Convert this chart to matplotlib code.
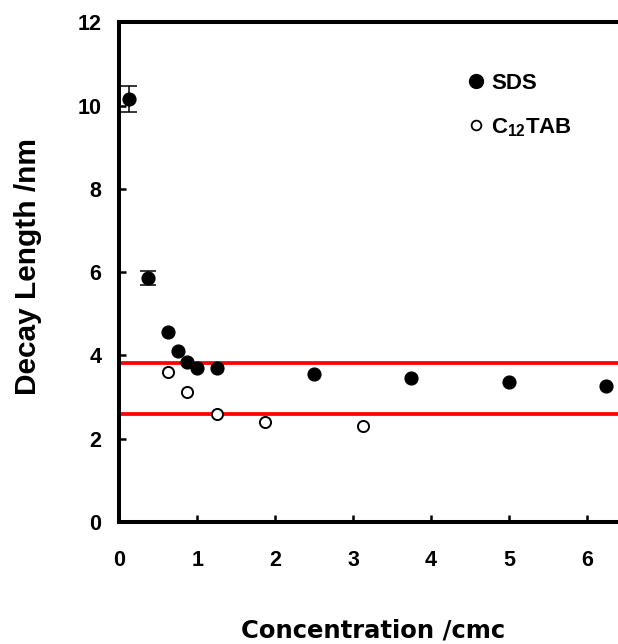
import matplotlib
matplotlib.use("Agg")
import matplotlib.pyplot as plt
import numpy as np

# concentration in units of cmc
sds_x = [0.125, 0.375, 0.625, 0.75, 0.875, 1.0, 1.25, 2.5, 3.75, 5.0, 6.25]
sds_y = [10.15, 5.87, 4.57, 4.11, 3.84, 3.69, 3.69, 3.55, 3.46, 3.36, 3.27]
sds_err = [0.31, 0.17, 0, 0, 0, 0, 0, 0, 0, 0, 0]

tab_x = [0.625, 0.875, 1.25, 1.875, 3.125]
tab_y = [3.61, 3.13, 2.59, 2.40, 2.31]

ref_lines = [3.81, 2.59]

x_ticks = [0, 1, 2, 3, 4, 5, 6]
y_ticks = [0, 2, 4, 6, 8, 10, 12]

plt.rcParams['font.family'] = ['Liberation Sans', 'DejaVu Sans']
plt.rcParams['font.weight'] = 'bold'
plt.rcParams['mathtext.fontset'] = 'custom'
plt.rcParams['mathtext.bf'] = 'Liberation Sans:bold'
plt.rcParams['mathtext.rm'] = 'Liberation Sans:bold'

fig = plt.figure(figsize=(6.18, 6.44), dpi=100)
ax = fig.add_axes([0.193, 0.1894, 0.807, 0.7759])

for y in ref_lines:
	ax.axhline(y, color='#ff0000', lw=2.7, zorder=1)

# error bars only where there is one
ex = [x for x, e in zip(sds_x, sds_err) if e > 0]
ey = [y for y, e in zip(sds_y, sds_err) if e > 0]
ee = [e for e in sds_err if e > 0]
ax.errorbar(ex, ey, yerr=ee, fmt='none', ecolor='black', elinewidth=1.1,
	capsize=5.5, capthick=1.1, zorder=2)

ax.plot(sds_x, sds_y, 'o', color='black', ms=9.2, zorder=3, label='SDS')
ax.plot(tab_x, tab_y, 'o', mfc='white', mec='black', mew=1.4, ms=8, zorder=3,
	label=r'C$_{\mathbf{12}}$TAB')

ax.set_xlim(0, 6.40)
ax.set_ylim(0, 12)
ax.set_xticks(x_ticks)
ax.set_yticks(y_ticks)

ax.spines['right'].set_visible(False)
for s in ['left', 'bottom', 'top']:
	ax.spines[s].set_linewidth(2.9)

ax.tick_params(direction='in', length=5, width=1.8, labelsize=15.5)
ax.tick_params(axis='x', pad=20)
ax.tick_params(axis='y', pad=13)
ax.tick_params(top=False, right=False)

ax.set_xlabel('Concentration /cmc', family='DejaVu Sans', fontsize=17.5, fontweight='bold')
ax.xaxis.set_label_coords(0.509, -0.193)
ax.xaxis.label.set_va('top')

ax.set_ylabel('Decay Length /nm', fontsize=21.5, fontweight='bold')
ax.yaxis.set_label_coords(-0.183, 0.511)
ax.yaxis.label.set_va('center')

leg = ax.legend(loc='upper left', bbox_to_anchor=(0.697, 0.899), frameon=False,
	fontsize=16, handlelength=0.8, handletextpad=0.3, labelspacing=1.0,
	borderpad=0, borderaxespad=0)
leg.legend_handles[0].set_markersize(10)
leg.legend_handles[1].set_markersize(7)
leg.legend_handles[1].set_markeredgewidth(1.3)

fig.savefig('out.png', dpi=100)
